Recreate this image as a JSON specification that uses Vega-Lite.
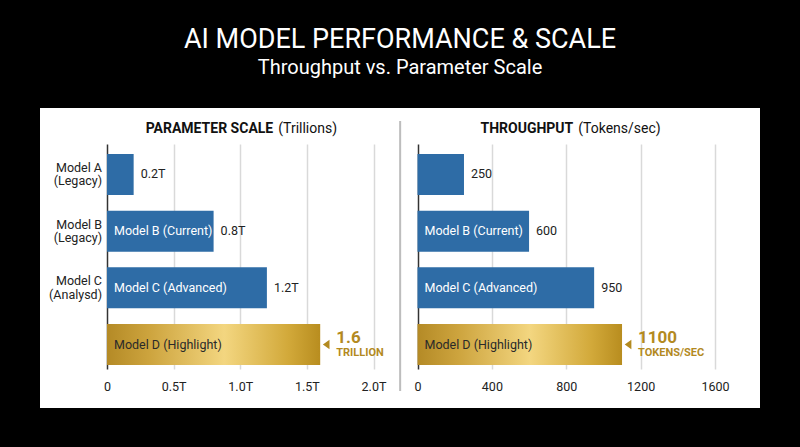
{
  "$schema": "https://vega.github.io/schema/vega-lite/v6.json",
  "width": 720,
  "height": 300,
  "autosize": {"type": "none"},
  "padding": {"left": 40, "top": 108, "right": 40, "bottom": 39},
  "background": "black",
  "view": {"fill": "white", "stroke": null},
  "title": {
    "text": "AI MODEL PERFORMANCE & SCALE",
    "subtitle": "Throughput vs. Parameter Scale",
    "color": "white",
    "subtitleColor": "white",
    "font": "Roboto",
    "subtitleFont": "Roboto",
    "fontSize": 27,
    "subtitleFontSize": 20,
    "fontWeight": "normal",
    "anchor": "middle",
    "frame": "group",
    "offset": 29,
    "subtitlePadding": 4
  },
  "data": {
    "values": [
      {"rowLabel": "Model A (Legacy)", "yName": "Model A", "yTier": "(Legacy)", "inner": "", "param": 0.2, "paramLabel": "0.2T", "tput": 250, "tputLabel": "250", "highlight": false, "hlParam": "", "hlParamUnit": "", "hlTput": "", "hlTputUnit": ""},
      {"rowLabel": "Model B (Legacy)", "yName": "Model B", "yTier": "(Legacy)", "inner": "Model B (Current)", "param": 0.8, "paramLabel": "0.8T", "tput": 600, "tputLabel": "600", "highlight": false, "hlParam": "", "hlParamUnit": "", "hlTput": "", "hlTputUnit": ""},
      {"rowLabel": "Model C (Analysd)", "yName": "Model C", "yTier": "(Analysd)", "inner": "Model C (Advanced)", "param": 1.2, "paramLabel": "1.2T", "tput": 950, "tputLabel": "950", "highlight": false, "hlParam": "", "hlParamUnit": "", "hlTput": "", "hlTputUnit": ""},
      {"rowLabel": "Model D", "yName": "", "yTier": "", "inner": "Model D (Highlight)", "param": 1.6, "paramLabel": "", "tput": 1100, "tputLabel": "", "highlight": true, "hlParam": "1.6", "hlParamUnit": "TRILLION", "hlTput": "1100", "hlTputUnit": "TOKENS/SEC"}
    ]
  },
  "layer": [
    {
      "encoding": {
        "x": {
          "field": "param", "type": "quantitative",
          "scale": {"domain": [0, 2], "range": [67, 333.5], "nice": false},
          "axis": {
            "orient": "bottom", "offset": -28, "values": [0, 0.5, 1, 1.5, 2],
            "labelExpr": "datum.value == 0 ? '0' : format(datum.value, '.1f') + 'T'",
            "domain": false, "ticks": false, "labelPadding": 0, "labelFontSize": 12.5,
            "labelColor": "#222222", "labelFlush": false, "labelFont": "Roboto",
            "grid": true,
            "gridColor": {"condition": {"test": "datum.value === 0", "value": "#333333"}, "value": "#d9d9d9"},
            "gridWidth": 1.5, "title": null
          }
        },
        "y": {"field": "rowLabel", "type": "nominal",
          "scale": {"range": [39, 264], "paddingInner": 0.277, "paddingOuter": 0.123}, "axis": null}
      },
      "layer": [
        {
          "transform": [{"filter": "!datum.highlight"}],
          "mark": {"type": "bar", "color": "#2e6ca6"}
        },
        {
          "transform": [{"filter": "datum.highlight"}],
          "mark": {"type": "bar", "color": {"gradient": "linear", "x1": 0, "y1": 0, "x2": 1, "y2": 0,
            "stops": [
              {"offset": 0, "color": "#b48a26"},
              {"offset": 0.2, "color": "#cda43e"},
              {"offset": 0.55, "color": "#f3d680"},
              {"offset": 0.85, "color": "#d2a93a"},
              {"offset": 1, "color": "#b88d1f"}
            ]}}
        },
        {
          "mark": {"type": "text", "align": "left", "baseline": "middle", "dx": 7, "fontSize": 12.5, "font": "Roboto"},
          "encoding": {
            "x": {"datum": 0, "type": "quantitative"},
            "text": {"field": "inner"},
            "color": {"condition": {"test": "datum.highlight", "value": "#2a2a2a"}, "value": "white"}
          }
        },
        {
          "transform": [{"filter": "!datum.highlight"}],
          "mark": {"type": "text", "align": "left", "baseline": "middle", "dx": 7, "fontSize": 12.5, "font": "Roboto", "color": "#222222"},
          "encoding": {"text": {"field": "paramLabel"}}
        },
        {
          "mark": {"type": "text", "align": "right", "baseline": "middle", "dx": -5, "dy": -6.5, "fontSize": 12.5, "font": "Roboto", "color": "#222222"},
          "encoding": {"x": {"datum": 0, "type": "quantitative"}, "text": {"field": "yName"}}
        },
        {
          "mark": {"type": "text", "align": "right", "baseline": "middle", "dx": -5, "dy": 7, "fontSize": 12.5, "font": "Roboto", "color": "#222222"},
          "encoding": {"x": {"datum": 0, "type": "quantitative"}, "text": {"field": "yTier"}}
        },
        {
          "transform": [{"filter": "datum.highlight"}],
          "layer": [
            {"mark": {"type": "point", "shape": "M0.7,-1L0.7,1L-0.7,0Z", "filled": true, "size": 90, "color": "#b38a1f", "opacity": 1, "xOffset": 6}},
            {"mark": {"type": "text", "align": "left", "baseline": "alphabetic", "dx": 16, "dy": -1.5, "fontSize": 17, "fontWeight": "bold", "font": "Roboto", "color": "#b38a1f"},
             "encoding": {"text": {"field": "hlParam"}}},
            {"mark": {"type": "text", "align": "left", "baseline": "alphabetic", "dx": 16, "dy": 11, "fontSize": 11, "fontWeight": "bold", "font": "Roboto", "color": "#b38a1f"},
             "encoding": {"text": {"field": "hlParamUnit"}}},
            {"mark": {"type": "rule", "color": "#bdbdbd", "strokeWidth": 2, "yOffset": -53.5, "y2Offset": 46.5},
             "encoding": {"x": {"datum": 2.2, "type": "quantitative"},
               "y": {"datum": "Model A (Legacy)", "type": "nominal"},
               "y2": {"datum": "Model D"}}},
            {"mark": {"type": "text", "text": "PARAMETER SCALE", "align": "right", "baseline": "middle", "dx": 33, "fontSize": 14, "fontWeight": "bold", "font": "Roboto", "color": "#111111", "yOffset": -45},
             "encoding": {"x": {"datum": 1, "type": "quantitative"}, "y": {"datum": "Model A (Legacy)", "type": "nominal"}}},
            {"mark": {"type": "text", "text": "(Trillions)", "align": "left", "baseline": "middle", "dx": 38, "fontSize": 14, "font": "Roboto", "color": "#111111", "yOffset": -45},
             "encoding": {"x": {"datum": 1, "type": "quantitative"}, "y": {"datum": "Model A (Legacy)", "type": "nominal"}}}
          ]
        }
      ]
    },
    {
      "encoding": {
        "x": {
          "field": "tput", "type": "quantitative",
          "scale": {"domain": [0, 1600], "range": [377.5, 675], "nice": false},
          "axis": {
            "orient": "bottom", "offset": -28, "values": [0, 400, 800, 1200, 1600], "format": "d",
            "domain": false, "ticks": false, "labelPadding": 0, "labelFontSize": 12.5,
            "labelColor": "#222222", "labelFlush": false, "labelFont": "Roboto",
            "grid": true,
            "gridColor": {"condition": {"test": "datum.value === 0", "value": "#333333"}, "value": "#d9d9d9"},
            "gridWidth": 1.5, "title": null
          }
        },
        "y": {"field": "rowLabel", "type": "nominal",
          "scale": {"range": [39, 264], "paddingInner": 0.277, "paddingOuter": 0.123}, "axis": null}
      },
      "layer": [
        {
          "transform": [{"filter": "!datum.highlight"}],
          "mark": {"type": "bar", "color": "#2e6ca6"}
        },
        {
          "transform": [{"filter": "datum.highlight"}],
          "mark": {"type": "bar", "color": {"gradient": "linear", "x1": 0, "y1": 0, "x2": 1, "y2": 0,
            "stops": [
              {"offset": 0, "color": "#b48a26"},
              {"offset": 0.2, "color": "#cda43e"},
              {"offset": 0.55, "color": "#f3d680"},
              {"offset": 0.85, "color": "#d2a93a"},
              {"offset": 1, "color": "#b88d1f"}
            ]}}
        },
        {
          "mark": {"type": "text", "align": "left", "baseline": "middle", "dx": 7, "fontSize": 12.5, "font": "Roboto"},
          "encoding": {
            "x": {"datum": 0, "type": "quantitative"},
            "text": {"field": "inner"},
            "color": {"condition": {"test": "datum.highlight", "value": "#2a2a2a"}, "value": "white"}
          }
        },
        {
          "transform": [{"filter": "!datum.highlight"}],
          "mark": {"type": "text", "align": "left", "baseline": "middle", "dx": 7, "fontSize": 12.5, "font": "Roboto", "color": "#222222"},
          "encoding": {"text": {"field": "tputLabel"}}
        },
        {
          "transform": [{"filter": "datum.highlight"}],
          "layer": [
            {"mark": {"type": "point", "shape": "M0.7,-1L0.7,1L-0.7,0Z", "filled": true, "size": 90, "color": "#b38a1f", "opacity": 1, "xOffset": 6}},
            {"mark": {"type": "text", "align": "left", "baseline": "alphabetic", "dx": 16, "dy": -1.5, "fontSize": 17, "fontWeight": "bold", "font": "Roboto", "color": "#b38a1f"},
             "encoding": {"text": {"field": "hlTput"}}},
            {"mark": {"type": "text", "align": "left", "baseline": "alphabetic", "dx": 16, "dy": 11, "fontSize": 11, "fontWeight": "bold", "font": "Roboto", "color": "#b38a1f"},
             "encoding": {"text": {"field": "hlTputUnit"}}},
            {"mark": {"type": "text", "text": "THROUGHPUT", "align": "right", "baseline": "middle", "dx": 7, "fontSize": 14, "fontWeight": "bold", "font": "Roboto", "color": "#111111", "yOffset": -45},
             "encoding": {"x": {"datum": 800, "type": "quantitative"}, "y": {"datum": "Model A (Legacy)", "type": "nominal"}}},
            {"mark": {"type": "text", "text": "(Tokens/sec)", "align": "left", "baseline": "middle", "dx": 12, "fontSize": 14, "font": "Roboto", "color": "#111111", "yOffset": -45},
             "encoding": {"x": {"datum": 800, "type": "quantitative"}, "y": {"datum": "Model A (Legacy)", "type": "nominal"}}}
          ]
        }
      ]
    }
  ],
  "resolve": {"scale": {"x": "independent"}, "axis": {"x": "independent"}},
  "config": {"font": "Roboto", "view": {"stroke": null}}
}
